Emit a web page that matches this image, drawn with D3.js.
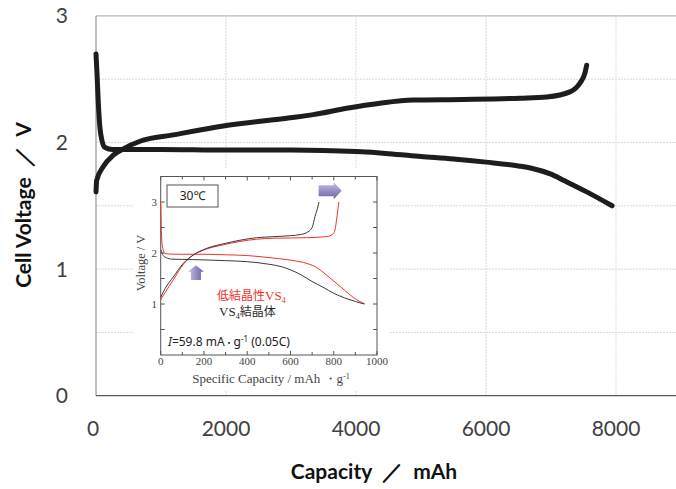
<!DOCTYPE html>
<html>
<head>
<meta charset="utf-8">
<script src="https://cdn.jsdelivr.net/npm/d3@7"></script>
<style>
  html, body { margin: 0; padding: 0; background: #fff; }
  svg { display: block; }
  text { white-space: pre; }
</style>
</head>
<body>
<div id="chart"></div>
<script>
// ---- Cell data (capacity in mAh, voltage in V) ----
const dischargeCap = [0, 15, 35, 60, 90, 140, 250, 1000, 2000, 3000, 3500, 4000, 4500, 5000, 5500, 6000, 6500, 6700, 7000, 7200, 7550, 7940];
const dischargeV   = [2.70, 2.55, 2.32, 2.12, 2.02, 1.96, 1.945, 1.945, 1.94, 1.94, 1.937, 1.928, 1.912, 1.89, 1.87, 1.845, 1.815, 1.797, 1.75, 1.70, 1.61, 1.50];

const chargeCap = [0, 10, 112, 266, 420, 677, 1189, 1958, 2985, 3343, 3857, 4370, 4882, 5651, 6523, 6934, 7292, 7446, 7523, 7549];
const chargeV   = [1.61, 1.70, 1.81, 1.90, 1.95, 2.01, 2.06, 2.13, 2.195, 2.22, 2.27, 2.31, 2.335, 2.34, 2.35, 2.36, 2.40, 2.47, 2.55, 2.61];

const xTicks = [0, 2000, 4000, 6000, 8000];
const yTicks = [0, 1, 2, 3];
const yGrid  = [0.5, 1, 1.5, 2, 2.5, 3];

// ---- Material data (specific capacity in mAh/g, voltage in V) ----
const lowCrystDisCap = [0, 3, 8, 20, 40, 100, 200, 300, 400, 500, 600, 680, 720, 760, 800, 850, 890, 920, 945];
const lowCrystDisV   = [3.0, 2.45, 2.12, 1.99, 1.98, 1.975, 1.975, 1.965, 1.95, 1.91, 1.86, 1.79, 1.72, 1.59, 1.45, 1.27, 1.13, 1.05, 1.00];
const lowCrystChgCap = [0, 20, 58, 105, 151, 200, 289, 443, 520, 675, 767, 798, 808, 813, 819, 824];
const lowCrystChgV   = [1.08, 1.22, 1.47, 1.78, 1.96, 2.06, 2.16, 2.27, 2.29, 2.30, 2.32, 2.38, 2.50, 2.65, 2.85, 3.0];

const crystDisCap = [2, 12, 30, 50, 100, 200, 300, 400, 500, 560, 600, 650, 700, 750, 800, 850, 900, 940];
const crystDisV   = [2.06, 1.95, 1.90, 1.88, 1.875, 1.865, 1.85, 1.83, 1.78, 1.73, 1.67, 1.57, 1.44, 1.33, 1.21, 1.12, 1.05, 1.00];
const crystChgCap = [0, 20, 58, 105, 150, 212, 300, 366, 443, 520, 600, 644, 675, 700, 713, 725, 732];
const crystChgV   = [1.13, 1.30, 1.53, 1.80, 1.96, 2.09, 2.19, 2.25, 2.30, 2.32, 2.34, 2.36, 2.40, 2.50, 2.71, 2.88, 3.0];

const insetXTicks = [0, 200, 400, 600, 800, 1000];
const insetYTicks = [1, 2, 3];

// ---- Layout ----
const W = 676, H = 489;
const svg = d3.select("#chart").append("svg").attr("width", W).attr("height", H);

const x = d3.scaleLinear().domain([0, 9000]).range([96, 681]);
const y = d3.scaleLinear().domain([0, 3]).range([395.7, 15.9]);

const zip = (a, b) => a.map((v, i) => [v, b[i]]);

// gridlines
svg.append("g").selectAll("line").data(yGrid).join("line")
  .attr("x1", x(0)).attr("x2", W)
  .attr("y1", d => y(d)).attr("y2", d => y(d))
  .attr("stroke", d => d === 3 ? "#a6a6a6" : "#d9d9d9")
  .attr("stroke-dasharray", d => d === 3 ? null : "2,1")
  .attr("stroke-width", 1);
svg.append("g").selectAll("line").data(xTicks.filter(d => d > 0)).join("line")
  .attr("x1", d => x(d)).attr("x2", d => x(d))
  .attr("y1", y(3)).attr("y2", y(0))
  .attr("stroke", "#d9d9d9").attr("stroke-dasharray", "2,1");

// axes lines
svg.append("line").attr("x1", x(0)).attr("x2", x(0)).attr("y1", y(3)).attr("y2", y(0))
  .attr("stroke", "#808080");
svg.append("line").attr("x1", x(0)).attr("x2", W).attr("y1", y(0)).attr("y2", y(0))
  .attr("stroke", "#595959").attr("stroke-width", 1.2);

// tick labels
const tickFont = "Lato, 'Open Sans', sans-serif";
svg.append("g").selectAll("text").data(yTicks).join("text")
  .attr("x", 68).attr("y", d => y(d)).attr("dy", "0.36em")
  .attr("text-anchor", "end")
  .attr("font-family", tickFont).attr("font-size", 21).attr("fill", "#404040")
  .text(d => d);
svg.append("g").selectAll("text").data(xTicks).join("text")
  .attr("x", d => x(d) - (d === 0 ? 3 : 0)).attr("y", 428).attr("dy", "0.36em")
  .attr("text-anchor", "middle")
  .attr("font-family", tickFont).attr("font-size", 21).attr("fill", "#404040")
  .text(d => d);

// axis titles
svg.append("text")
  .attr("transform", `translate(31, 205) rotate(-90)`)
  .attr("text-anchor", "middle")
  .attr("font-family", tickFont).attr("font-weight", "bold").attr("font-size", 21).attr("fill", "#111")
  .text("Cell Voltage  ／  V");
svg.append("text")
  .attr("x", 374).attr("y", 479)
  .attr("text-anchor", "middle")
  .attr("font-family", tickFont).attr("font-weight", "bold").attr("font-size", 21).attr("fill", "#111")
  .text("Capacity  ／  mAh");

// curves
const mainLine = d3.line().x(d => x(d[0])).y(d => y(d[1])).curve(d3.curveMonotoneX);
[zip(dischargeCap, dischargeV), zip(chargeCap, chargeV)].forEach(s => {
  svg.append("path").attr("d", mainLine(s))
    .attr("fill", "none").attr("stroke", "#1e1c1d").attr("stroke-width", 5)
    .attr("stroke-linecap", "round").attr("stroke-linejoin", "round");
});

// ---- Inset: specific capacity of VS4 materials ----
const xi = d3.scaleLinear().domain([0, 1000]).range([160.7, 377]);
const yi = d3.scaleLinear().domain([0, 3.5]).range([355, 176.5]);
const g = svg.append("g");

g.append("rect").attr("x", 133).attr("y", 168).attr("width", 257).attr("height", 223).attr("fill", "#fff");

const serif = "'Liberation Serif', 'DejaVu Serif', serif";

// inward ticks
const minorX = d3.range(0, 1001, 100);
g.append("g").selectAll("line").data(minorX).join("line")
  .attr("x1", d => xi(d)).attr("x2", d => xi(d))
  .attr("y1", yi(0)).attr("y2", d => yi(0) - (d % 200 === 0 ? 4 : 3))
  .attr("stroke", "#555");
g.append("g").selectAll("line").data(minorX).join("line")
  .attr("x1", d => xi(d)).attr("x2", d => xi(d))
  .attr("y1", yi(3.5)).attr("y2", d => yi(3.5) + (d % 200 === 0 ? 4 : 3))
  .attr("stroke", "#555");
const minorY = d3.range(0.5, 3.5, 0.5);
g.append("g").selectAll("line").data(minorY).join("line")
  .attr("x1", xi(1000)).attr("x2", xi(1000) - 4)
  .attr("y1", d => yi(d)).attr("y2", d => yi(d))
  .attr("stroke", "#555");
g.append("g").selectAll("line").data(minorY).join("line")
  .attr("x1", xi(0)).attr("x2", xi(0) + 4)
  .attr("y1", d => yi(d)).attr("y2", d => yi(d))
  .attr("stroke", "#555");

g.append("rect")
  .attr("x", xi(0)).attr("y", yi(3.5))
  .attr("width", xi(1000) - xi(0)).attr("height", yi(0) - yi(3.5))
  .attr("fill", "none").attr("stroke", "#555").attr("stroke-width", 1);

g.append("g").selectAll("text").data(insetXTicks).join("text")
  .attr("x", d => xi(d)).attr("y", 361).attr("dy", "0.35em")
  .attr("text-anchor", "middle")
  .attr("font-family", serif).attr("font-size", 11).attr("fill", "#444")
  .text(d => d);
g.append("g").selectAll("text").data(insetYTicks).join("text")
  .attr("x", 157).attr("y", d => yi(d)).attr("dy", "0.35em")
  .attr("text-anchor", "end")
  .attr("font-family", serif).attr("font-size", 11).attr("fill", "#444")
  .text(d => d);

const xt = g.append("text")
  .attr("x", 271).attr("y", 383)
  .attr("text-anchor", "middle")
  .attr("font-family", serif).attr("font-size", 13).attr("fill", "#444");
xt.append("tspan").text("Specific Capacity / mAh ・g");
xt.append("tspan").attr("dy", -4).attr("font-size", 8).text("-1");

g.append("text")
  .attr("transform", `translate(145, 263) rotate(-90)`)
  .attr("text-anchor", "middle")
  .attr("font-family", serif).attr("font-size", 12.5).attr("fill", "#444")
  .text("Voltage / V");

const insetLine = d3.line().x(d => xi(d[0])).y(d => yi(d[1])).curve(d3.curveMonotoneX);
[
  [zip(lowCrystDisCap, lowCrystDisV), "#f2312a"],
  [zip(lowCrystChgCap, lowCrystChgV), "#f2312a"],
  [zip(crystDisCap, crystDisV), "#3a3a3a"],
  [zip(crystChgCap, crystChgV), "#3a3a3a"]
].forEach(([s, c]) => {
  g.append("path").attr("d", insetLine(s))
    .attr("fill", "none").attr("stroke", c).attr("stroke-width", 1);
});

// temperature box
g.append("rect").attr("x", 167).attr("y", 185).attr("width", 51).attr("height", 22)
  .attr("fill", "#fff").attr("stroke", "#555");
g.append("text").attr("x", 192.5).attr("y", 196).attr("dy", "0.36em")
  .attr("text-anchor", "middle")
  .attr("font-family", "'Noto Sans', 'Noto Sans CJK JP', sans-serif").attr("font-size", 12).attr("fill", "#222")
  .text("30℃");

// arrows
const defs = svg.append("defs");
const gv = defs.append("linearGradient").attr("id", "gradV").attr("x1", 0).attr("y1", 0).attr("x2", 0).attr("y2", 1);
gv.append("stop").attr("offset", 0).attr("stop-color", "#c4c0e2");
gv.append("stop").attr("offset", 1).attr("stop-color", "#6a61a9");
const gh = defs.append("linearGradient").attr("id", "gradH").attr("x1", 0).attr("y1", 0).attr("x2", 1).attr("y2", 0);
gh.append("stop").attr("offset", 0).attr("stop-color", "#c4c0e2");
gh.append("stop").attr("offset", 1).attr("stop-color", "#6a61a9");

// right arrow (charge end direction)
{
  const x0 = xi(730), x1 = xi(800), x2 = xi(837);
  const yc = yi(3.22), hb = 5.5, hh = 8.5;
  g.append("path")
    .attr("d", `M${x0},${yc - hb} L${x1},${yc - hb} L${x1},${yc - hh} L${x2},${yc} L${x1},${yc + hh} L${x1},${yc + hb} L${x0},${yc + hb} Z`)
    .attr("fill", "url(#gradV)");
}
// up arrow (discharge plateau)
{
  const xc = xi(163), hb = 5, hh = 8;
  const y0 = yi(1.47), y1 = yi(1.63), y2 = yi(1.76);
  g.append("path")
    .attr("d", `M${xc - hb},${y0} L${xc - hb},${y1} L${xc - hh},${y1} L${xc},${y2} L${xc + hh},${y1} L${xc + hb},${y1} L${xc + hb},${y0} Z`)
    .attr("fill", "url(#gradH)");
}

// series labels
const cjk = "'Noto Sans CJK JP', sans-serif";
const l1 = g.append("text").attr("x", 217).attr("y", 300).attr("font-size", 12).attr("fill", "#f2312a");
l1.append("tspan").attr("font-family", cjk).text("低結晶性");
l1.append("tspan").attr("font-family", serif).attr("font-size", 13).text("VS");
l1.append("tspan").attr("font-family", serif).attr("font-size", 8).attr("dy", 3).text("4");

const l2 = g.append("text").attr("x", 219).attr("y", 316).attr("font-size", 12).attr("fill", "#2a2a2a");
l2.append("tspan").attr("font-family", serif).attr("font-size", 13).text("VS");
l2.append("tspan").attr("font-family", serif).attr("font-size", 8).attr("dy", 3).text("4");
l2.append("tspan").attr("font-family", cjk).attr("dy", -3).text("結晶体");

// current density note
const cur = g.append("text").attr("x", 168).attr("y", 346)
  .attr("font-family", "'Noto Sans', sans-serif").attr("font-size", 12).attr("fill", "#222");
cur.append("tspan").attr("font-style", "italic").text("I");
cur.append("tspan").text("=59.8 mA");
cur.append("tspan").attr("font-family", cjk).attr("font-size", 9).text("・");
cur.append("tspan").text("g");
cur.append("tspan").attr("font-size", 8).attr("dy", -4).text("-1");
cur.append("tspan").attr("dy", 4).text(" (0.05C)");
</script>
</body>
</html>
